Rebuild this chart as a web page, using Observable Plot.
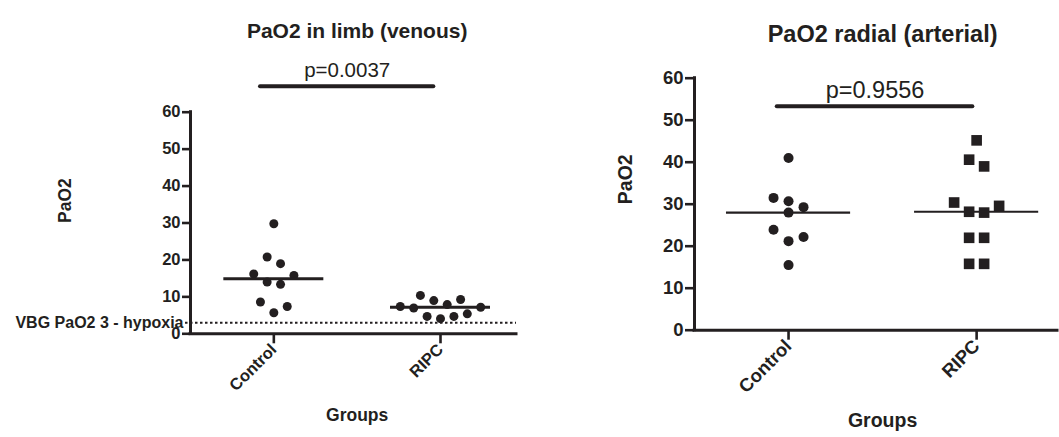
<!DOCTYPE html>
<html>
<head>
<meta charset="utf-8">
<script src="https://cdn.jsdelivr.net/npm/d3@7"></script>
<script src="https://cdn.jsdelivr.net/npm/@observablehq/plot@0.6"></script>
<style>
  html, body { margin: 0; padding: 0; background: #fff; }
  #wrap { position: relative; width: 1059px; height: 437px; overflow: hidden; background: #fff; }
  #wrap svg { position: absolute; top: 0; }
</style>
</head>
<body>
<div id="wrap"></div>
<script>
// ---- data ----
const groups = ["Control", "RIPC"];
const venousControl = [29.8, 20.8, 19.0, 16.2, 15.8, 14.0, 13.4, 8.6, 7.4, 5.7];
const venousRIPC = [10.4, 9.3, 9.0, 7.9, 7.4, 7.2, 7.0, 5.4, 4.7, 4.7, 4.1];
const arterialControl = [41.0, 31.5, 30.7, 29.3, 28.0, 23.9, 22.2, 21.2, 15.5];
const arterialRIPC = [45.2, 40.6, 39.0, 30.4, 29.6, 28.2, 28.0, 22.0, 22.0, 15.8, 15.8];
const yTicks = [0, 10, 20, 30, 40, 50, 60];
const titles = ["PaO2 in limb (venous)", "PaO2 radial (arterial)"];
const pLabels = ["p=0.0037", "p=0.9556"];
const bracketLevels = [67, 53.3];
const hypoxiaLevel = [3];
const hypoxiaLabel = ["VBG PaO2 3 - hypoxia"];
const yLabel = "PaO2";
const xLabel = "Groups";

const INK = "#231f20";
const FONT = "'Liberation Sans', Arial, Helvetica, sans-serif";

function* permutations(n) {
  const first = [];
  let lo = 0, hi = n - 1;
  while (lo <= hi) { first.push(lo++); if (lo <= hi) first.push(hi--); }
  yield first;
  const used = new Array(n).fill(false), cur = [];
  function* rec() {
    if (cur.length === n) { yield cur.slice(); return; }
    for (let i = 0; i < n; i++) if (!used[i]) {
      used[i] = true; cur.push(i);
      yield* rec();
      cur.pop(); used[i] = false;
    }
  }
  yield* rec();
}

// column-scatter layout: spread points of similar value horizontally (pixel offsets)
function spread(values, pxY, stepPx, collideD, thresh) {
  const idx = values.map((v, i) => i).sort((a, b) => values[b] - values[a]);
  let clusters = [];
  for (const i of idx) {
    const c = clusters[clusters.length - 1];
    if (c && values[c[0]] - values[i] < thresh) c.push(i); else clusters.push([i]);
  }
  const off = new Array(values.length).fill(0);
  const assign = (c, p) => { const n = c.length; c.forEach((i, k) => { off[i] = (p[k] - (n - 1) / 2) * stepPx; }); };
  const ok = (a, b) => !a.some(i => b.some(j =>
    Math.hypot(off[i] - off[j], (values[i] - values[j]) * pxY) < collideD));
  outer: while (true) {
    clusters.forEach(c => assign(c, permutations(c.length).next().value));
    for (let k = 1; k < clusters.length; k++) {
      const A = clusters[k - 1], B = clusters[k];
      let found = false;
      for (const p of permutations(B.length)) { assign(B, p); if (ok(A, B)) { found = true; break; } }
      if (!found && A.length <= 5) {
        search: for (const q of permutations(A.length)) {
          assign(A, q);
          if (k >= 2 && !ok(clusters[k - 2], A)) continue;
          for (const p of permutations(B.length)) { assign(B, p); if (ok(A, B)) { found = true; break search; } }
        }
      }
      if (!found) {
        clusters.splice(k - 1, 2, A.concat(B));
        continue outer;
      }
    }
    break;
  }
  return off;
}

function panel(cfg) {
  const {width, height, ml, mr, mt, mb, xDomain, series, symbols, r, step, collideD, thresh, fs, title, pLabel, bracket, bracketX, medHalf, hypoxia} = cfg;
  const pxX = (width - ml - mr) / (xDomain[1] - xDomain[0]);
  const pxY = (height - mt - mb) / (yTicks[yTicks.length - 1] - yTicks[0]);
  const rows = [];
  series.forEach((vals, g) => {
    const off = spread(vals, pxY, step, collideD[g], thresh);
    vals.forEach((v, i) => rows.push({group: groups[g], pos: g + 1, x: g + 1 + off[i] / pxX, value: v, sym: symbols[g], rad: r[g]}));
  });
  const medians = series.map((vals, g) => ({pos: g + 1, value: d3.median(vals)}));
  const marks = [];
  if (hypoxia) {
    marks.push(Plot.ruleY(hypoxiaLevel, {x1: xDomain[0], x2: xDomain[1], stroke: INK, strokeWidth: 2, strokeDasharray: "2.5,2.5", insetLeft: -5}));
  }
  marks.push(
    Plot.axisY(yTicks, {tickSize: fs.tick, tickPadding: 2, strokeWidth: 2.6, stroke: INK, fill: INK, fontSize: fs.y, fontWeight: "bold", label: null}),
    Plot.axisX([1, 2], {tickSize: fs.xtick, tickPadding: 3, strokeWidth: 2.6, stroke: INK, fill: INK, tickRotate: -45, tickFormat: d => groups[d - 1], fontSize: fs.x, fontWeight: "bold", label: null}),
    Plot.ruleX([xDomain[0]], {y1: yTicks[0], y2: yTicks[yTicks.length - 1], stroke: INK, strokeWidth: 3, strokeLinecap: "square"}),
    Plot.ruleY([yTicks[0]], {x1: xDomain[0], x2: xDomain[1], stroke: INK, strokeWidth: 3, strokeLinecap: "square"}),
    Plot.dot(rows, {x: "x", y: "value", symbol: "sym", r: "rad", fill: INK, stroke: "none"}),
    Plot.ruleY(medians, {y: "value", x1: d => d.pos - medHalf, x2: d => d.pos + medHalf, stroke: INK, strokeWidth: fs.median}),
    Plot.ruleY([bracket], {y: d => d, x1: bracketX[0], x2: bracketX[1], stroke: INK, strokeWidth: 4, strokeLinecap: "round"}),
    Plot.text([pLabel], {x: (bracketX[0] + bracketX[1]) / 2, y: bracket, dy: -16, fontSize: fs.p, fontWeight: "normal", fill: INK}),
    Plot.text([title], {x: 1.5, frameAnchor: "top", dy: fs.titleDy, fontSize: fs.title, fontWeight: "bold", fill: INK}),
    Plot.text([xLabel], {x: 1.5, frameAnchor: "bottom", dy: fs.groupsDy, fontSize: fs.lab, fontWeight: "bold", fill: INK}),
    Plot.text([yLabel], {frameAnchor: "left", dx: fs.yLabDx, rotate: -90, fontSize: fs.lab, fontWeight: "bold", fill: INK})
  );
  if (hypoxia) {
    marks.push(Plot.text(hypoxiaLabel, {x: xDomain[0], y: hypoxiaLevel[0], textAnchor: "end", dx: -7, fontSize: fs.hyp, fontWeight: "bold", fill: INK}));
  }
  return Plot.plot({
    width, height,
    marginLeft: ml, marginRight: mr, marginTop: mt, marginBottom: mb,
    x: {type: "linear", domain: xDomain, axis: null},
    y: {type: "linear", domain: [yTicks[0], yTicks[yTicks.length - 1]], axis: null},
    r: {type: "identity"},
    symbol: {type: "identity"},
    style: {fontFamily: FONT, fontWeight: "bold", fontSize: fs.y + "px", background: "transparent", overflow: "visible", color: INK},
    marks
  });
}

const left = panel({
  width: 530, height: 437, ml: 190, mr: 14, mt: 111.7, mb: 103.7,
  xDomain: [0.5, 2.456],
  series: [venousControl, venousRIPC], symbols: ["circle", "circle"],
  r: [4.5, 4.5], step: 13.4, collideD: [8.8, 8.8], thresh: 3,
  bracketX: [0.92, 1.96], medHalf: 0.3,
  fs: {tick: 8, xtick: 10, y: 16.5, x: 16.5, hyp: 16, p: 20.5, title: 21, lab: 17.5, median: 3,
       titleDy: -89.5, groupsDy: 87, yLabDx: -125},
  title: titles[0], pLabel: pLabels[0], bracket: bracketLevels[0], hypoxia: true
});
left.style.left = "0px";

const right = panel({
  width: 529, height: 437, ml: 164, mr: 2, mt: 77.7, mb: 107.3,
  xDomain: [0.5, 2.43],
  series: [arterialControl, arterialRIPC], symbols: ["circle", "square"],
  r: [5, 6], step: 15, collideD: [9.6, 10], thresh: 2.5,
  bracketX: [0.94, 1.98], medHalf: 0.33,
  fs: {tick: 9, xtick: 10, y: 18.5, x: 18.5, hyp: 16, p: 23.5, title: 23.5, lab: 19.5, median: 2.2,
       titleDy: -53, groupsDy: 97, yLabDx: -69},
  title: titles[1], pLabel: pLabels[1], bracket: bracketLevels[1], hypoxia: false
});
right.style.left = "530px";

const wrap = document.getElementById("wrap");
wrap.appendChild(left);
wrap.appendChild(right);
</script>
</body>
</html>
